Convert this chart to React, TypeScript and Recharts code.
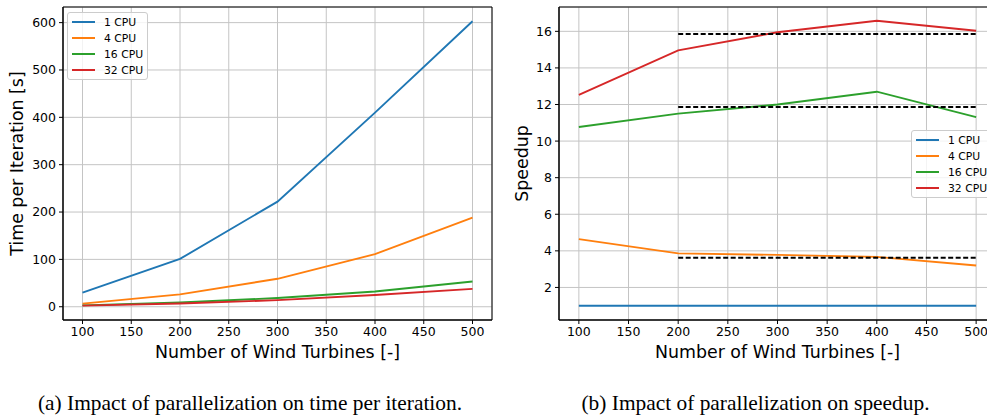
import React from 'react'
import {
  LineChart,
  Line,
  XAxis,
  YAxis,
  CartesianGrid,
  Legend,
  Label,
  ReferenceArea,
  ReferenceLine,
} from 'recharts'

const turbines = [100, 200, 300, 400, 500]
const xTicks = [100, 150, 200, 250, 300, 350, 400, 450, 500]
const cpuLabels = ['1 CPU', '4 CPU', '16 CPU', '32 CPU']
const colors = ['#1f77b4', '#ff7f0e', '#2ca02c', '#d62728']

// time per iteration [s]
const time1 = [30, 101, 222, 410, 603]
const time4 = [6.5, 26, 59, 111, 188]
const time16 = [2.8, 8.8, 18.5, 32.3, 53.4]
const time32 = [2.4, 6.8, 13.9, 24.8, 37.7]
const timeTicks = [0, 100, 200, 300, 400, 500, 600]

// speedup
const speed1 = [1, 1, 1, 1, 1]
const speed4 = [4.64, 3.86, 3.78, 3.67, 3.2]
const speed16 = [10.77, 11.5, 12.0, 12.7, 11.31]
const speed32 = [12.52, 14.96, 15.95, 16.58, 16.03]
const speedTicks = [2, 4, 6, 8, 10, 12, 14, 16]

// dashed mean lines (200..500)
const meanFrom = 200
const meanTo = 500
const meanSpeed = [3.62, 11.87, 15.86]

const FONT = '"DejaVu Sans", sans-serif'

function buildRows(series: number[][]) {
  return turbines.map((x, i) => {
    const row: Record<string, number> = { x }
    series.forEach((s, k) => {
      row['s' + k] = s[i]
    })
    return row
  })
}

const timeRows = buildRows([time1, time4, time16, time32])
const speedRows = buildRows([speed1, speed4, speed16, speed32])

const renderLegend = () => (
  <div
    style={{
      border: '1px solid #cccccc',
      borderRadius: 3,
      background: 'rgba(255,255,255,0.8)',
      width: '100%',
      height: '100%',
      boxSizing: 'border-box',
      paddingTop: 1,
    }}
  >
    {cpuLabels.map((name, i) => (
      <div key={name} style={{ display: 'flex', alignItems: 'center', height: 16 }}>
        <div style={{ width: 23, height: 2, background: colors[i], marginLeft: 4, marginRight: 9 }} />
        <span style={{ fontFamily: FONT, fontSize: 10.8, color: '#000', whiteSpace: 'nowrap' }}>{name}</span>
      </div>
    ))}
  </div>
)

interface PanelProps {
  rows: Record<string, number>[]
  yDomain: [number, number]
  yTicks: number[]
  yLabel: string
  yAxisWidth: number
  yLabelX: number
  rightMargin: number
  legendPos: { left: number; top: number }
  means?: number[]
}

const Panel: React.FC<PanelProps> = ({
  rows,
  yDomain,
  yTicks,
  yLabel,
  yAxisWidth,
  yLabelX,
  rightMargin,
  legendPos,
  means,
}) => {
  const renderYLabel = (props: any) => {
    const vb = props.viewBox
    const cx = vb.x + yLabelX
    const cy = vb.y + vb.height / 2
    return (
      <text
        x={cx}
        y={cy}
        transform={`rotate(-90 ${cx} ${cy})`}
        textAnchor="middle"
        dominantBaseline="central"
        fontFamily={FONT}
        fontSize={17.4}
        fill="#000"
      >
        {yLabel}
      </text>
    )
  }

  return (
    <LineChart
      width={500}
      height={370}
      data={rows}
      margin={{ top: 7, right: rightMargin, left: 0, bottom: 0 }}
    >
      <CartesianGrid stroke="#c4c4c4" strokeWidth={1} />
      <XAxis
        dataKey="x"
        type="number"
        domain={[80, 520]}
        ticks={xTicks}
        allowDataOverflow
        height={50}
        tickSize={4}
        tickMargin={3}
        stroke="#000"
        tick={{ fill: '#000', fontFamily: FONT, fontSize: 12.5 }}
      >
        <Label
          value="Number of Wind Turbines [-]"
          position="insideBottom"
          offset={12}
          style={{ fontFamily: FONT, fontSize: 17.4, fill: '#000' }}
        />
      </XAxis>
      <YAxis
        type="number"
        domain={yDomain}
        ticks={yTicks}
        allowDataOverflow
        width={yAxisWidth}
        tickSize={4}
        tickMargin={3}
        stroke="#000"
        tick={{ fill: '#000', fontFamily: FONT, fontSize: 12.5 }}
      >
        <Label content={renderYLabel} />
      </YAxis>
      <ReferenceArea
        x1={80}
        x2={520}
        y1={yDomain[0]}
        y2={yDomain[1]}
        fill="none"
        fillOpacity={0}
        stroke="#000"
        strokeWidth={1}
        ifOverflow="visible"
      />
      {cpuLabels.map((name, i) => (
        <Line
          key={name}
          dataKey={'s' + i}
          name={name}
          stroke={colors[i]}
          strokeWidth={1.9}
          dot={false}
          activeDot={false}
          isAnimationActive={false}
        />
      ))}
      {means &&
        means.map((m) => (
          <ReferenceLine
            key={m}
            segment={[
              { x: meanFrom, y: m },
              { x: meanTo, y: m },
            ]}
            stroke="#000"
            strokeWidth={2}
            strokeDasharray="5 2.5"
          />
        ))}
      <Legend
        layout="vertical"
        align="center"
        verticalAlign="middle"
        content={renderLegend}
        wrapperStyle={{ left: legendPos.left, top: legendPos.top, width: 81, height: 68 }}
      />
    </LineChart>
  )
}

const captionStyle: React.CSSProperties = {
  position: 'absolute',
  top: 393,
  textAlign: 'center',
  fontFamily: '"Liberation Serif", serif',
  fontSize: 21.4,
  lineHeight: 1,
  whiteSpace: 'nowrap',
}

export default function App() {
  return (
    <div
      style={{
        position: 'absolute',
        left: 0,
        top: 0,
        width: 987,
        height: 417,
        overflow: 'hidden',
        background: '#fff',
      }}
    >
      <div style={{ position: 'absolute', left: 0, top: 0 }}>
        <Panel
          rows={timeRows}
          yDomain={[-28, 633]}
          yTicks={timeTicks}
          yLabel="Time per Iteration [s]"
          yAxisWidth={63}
          yLabelX={17}
          rightMargin={8}
          legendPos={{ left: 67, top: 12 }}
        />
      </div>
      <div style={{ position: 'absolute', left: 500, top: 0 }}>
        <Panel
          rows={speedRows}
          yDomain={[0.22, 17.33]}
          yTicks={speedTicks}
          yLabel="Speedup"
          yAxisWidth={59}
          yLabelX={22}
          rightMargin={4}
          legendPos={{ left: 411, top: 130 }}
          means={meanSpeed}
        />
      </div>
      <div style={{ ...captionStyle, left: 0, width: 500 }}>
        (a) Impact of parallelization on time per iteration.
      </div>
      <div style={{ ...captionStyle, left: 500, width: 511 }}>
        (b) Impact of parallelization on speedup.
      </div>
    </div>
  )
}
